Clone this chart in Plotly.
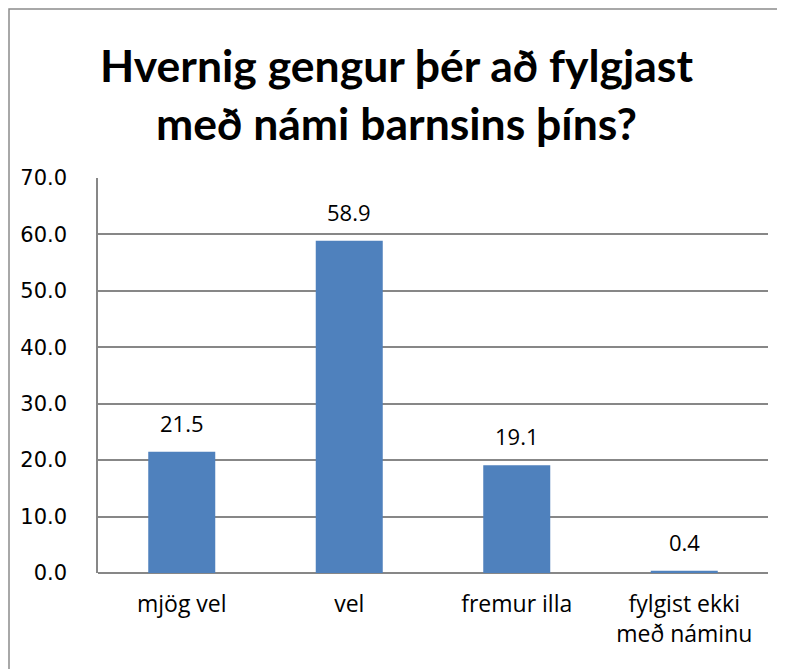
import plotly.graph_objects as go

categories = ["mjög vel", "vel", "fremur illa", "fylgist ekki<br>með náminu"]
values = [21.5, 58.9, 19.1, 0.4]
tick_vals = [0, 10, 20, 30, 40, 50, 60, 70]

BAR_COLOR = "#4F81BD"
GRID_COLOR = "#878787"

# plot area in figure pixels
L, T, W, H = 90, 170, 670, 395
FIG_W, FIG_H = 777, 661

fig = go.Figure()
fig.add_trace(go.Bar(
    x=categories,
    y=values,
    marker=dict(color=BAR_COLOR, line=dict(width=0)),
))

# value labels above the bars
for cat, v in zip(categories, values):
    fig.add_annotation(
        x=cat, y=v, text=f"{v:.1f}",
        showarrow=False, yanchor="bottom", yshift=12,
        font=dict(family="Open Sans", size=22, color="black"),
    )

# title
fig.add_annotation(
    xref="paper", yref="paper",
    x=(FIG_W / 2 - L) / W, y=(T + H - 86) / H,
    xanchor="center", yanchor="middle",
    text="<b>Hvernig gengur þér að fylgjast<br>með námi barnsins þíns?</b>",
    showarrow=False,
    font=dict(family="Lato", size=44.5, color="black"),
)

fig.update_layout(
    width=FIG_W,
    height=FIG_H,
    margin=dict(l=L, r=FIG_W - L - W, t=T, b=FIG_H - T - H),
    paper_bgcolor="white",
    plot_bgcolor="white",
    showlegend=False,
    bargap=0.6,
    xaxis=dict(
        showgrid=False,
        showline=False,
        ticks="",
        tickfont=dict(family="Open Sans", size=23, color="black"),
        ticklabelstandoff=15,
    ),
    yaxis=dict(
        range=[0, 70],
        tickvals=tick_vals,
        tickformat=".1f",
        showgrid=True,
        gridcolor=GRID_COLOR,
        gridwidth=1.5,
        zeroline=True,
        zerolinecolor=GRID_COLOR,
        zerolinewidth=1.5,
        showline=True,
        linecolor=GRID_COLOR,
        linewidth=1.5,
        ticks="",
        ticklabelstandoff=25,
        tickfont=dict(family="DejaVu Sans", size=21, color="black"),
    ),
)

# outer chart frame
fig.add_shape(
    type="rect", xref="paper", yref="paper",
    x0=(1 - L) / W, x1=(FIG_W + 20 - L) / W,
    y0=(T + H - FIG_H - 20) / H, y1=(T + H - 1) / H,
    line=dict(color="#8c8c8c", width=1.5),
    fillcolor="rgba(0,0,0,0)",
    layer="below",
)

fig.write_html("out.html")
